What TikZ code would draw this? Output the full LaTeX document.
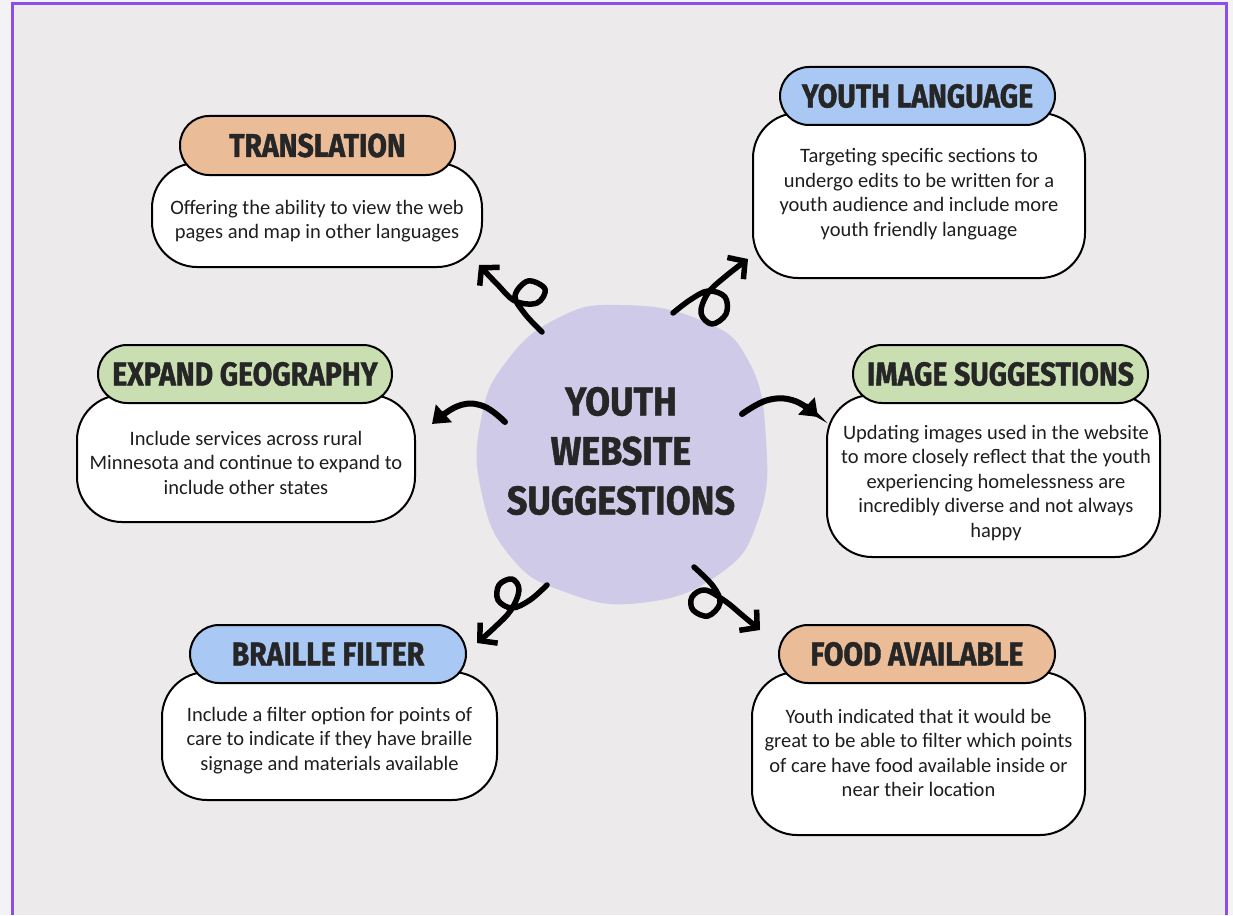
\documentclass[tikz,border=0pt]{standalone}
\usepackage{fontspec}
\setmainfont{Carlito}
\newfontfamily\headfont[FakeStretch=0.86, FakeBold=1.2]{Fira Sans}
\newfontfamily\centrefont[FakeStretch=0.9, FakeBold=1.2]{Fira Sans}
\usetikzlibrary{arrows.meta}
\definecolor{outerbg}{HTML}{F3F3F5}
\definecolor{bg}{HTML}{ECEAEB}
\definecolor{framec}{HTML}{8B4DEB}
\definecolor{peach}{HTML}{EBBC98}
\definecolor{skyb}{HTML}{A9C8F4}
\definecolor{sage}{HTML}{CADFB1}
\definecolor{blob}{HTML}{CFCAE8}
\definecolor{headtext}{HTML}{262626}
\definecolor{bodytext}{HTML}{1E1E1E}
\tikzset{
  bodybox/.style={draw=black, line width=2pt, fill=white, rounded corners=45pt, inner sep=0pt},
  pill/.style={draw=black, line width=2pt, rounded corners=29pt, inner sep=0pt,
    font=\headfont\bfseries\fontsize{33}{33}\selectfont, text=headtext},
  desc/.style={align=center, font=\fontsize{20.5}{24.5}\selectfont, text=bodytext, inner sep=0pt},
  curl/.style={line width=5.5pt, line cap=round, line join=round, draw=black,
    -{Straight Barb[length=12pt,width=27pt,line width=5.5pt]}},
  arc/.style={line width=6pt, line cap=round, draw=black,
    -{Triangle[length=16pt,width=23pt]}},
}
\begin{document}
\begin{tikzpicture}[x=1pt,y=-1pt]
\useasboundingbox (0,0) rectangle (1233,915);
\fill[outerbg] (0,0) rectangle (1233,915);
\fill[bg] (12,3) rectangle (1227,915);
\draw[framec, line width=3pt] (12.5,915) -- (12.5,3.5) -- (1226.5,3.5) -- (1226.5,915);

% centre blob
\fill[blob] plot[smooth cycle, tension=0.8] coordinates {(620,305) (700,320) (748,360) (766,440) (758,520) (718,575) (640,603) (565,592) (510,556) (481,490) (481,420) (506,362) (558,318)};
\node[font=\centrefont\bfseries\fontsize{40}{49.5}\selectfont, text=headtext, align=center, inner sep=0pt] (centre) at (621,451) {YOUTH\\WEBSITE\\SUGGESTIONS};

% Translation
\node[bodybox, minimum width=330pt, minimum height=104pt] (trB) at (317,215) {};
\node[desc] (trT) at (317,221) {Offering the ability to view the web\\pages and map in other languages};
\node[pill, fill=peach, minimum width=275pt, minimum height=59pt] (trH) at (317.5,145.5) {TRANSLATION};

% Youth language
\node[bodybox, minimum width=332pt, minimum height=165pt] (ylB) at (919,195.5) {};
\node[desc] (ylT) at (919,194) {Targeting specific sections to\\undergo edits to be written for a\\youth audience and include more\\youth friendly language};
\node[pill, fill=skyb, minimum width=275pt, minimum height=58pt] (ylH) at (917.5,96) {YOUTH LANGUAGE};

% Image suggestions
\node[bodybox, minimum width=333pt, minimum height=162pt] (isB) at (993.5,476) {};
\node[desc] (isT) at (996,483) {Updating images used in the website\\to more closely reflect that the youth\\experiencing homelessness are\\incredibly diverse and not always\\happy};
\node[pill, fill=sage, minimum width=295pt, minimum height=58pt] (isH) at (1000.5,374) {IMAGE SUGGESTIONS};

% Expand geography
\node[bodybox, minimum width=338pt, minimum height=127pt] (egB) at (246,458.5) {};
\node[desc] (egT) at (246,462.5) {Include services across rural\\Minnesota and continue to expand to\\include other states};
\node[pill, fill=sage, minimum width=294pt, minimum height=58pt] (egH) at (245,374) {EXPAND GEOGRAPHY};

% Braille filter
\node[bodybox, minimum width=335pt, minimum height=128pt] (bfB) at (329.5,736) {};
\node[desc] (bfT) at (329.5,740.5) {Include a filter option for points of\\care to indicate if they have braille\\signage and materials available};
\node[pill, fill=skyb, minimum width=276pt, minimum height=58pt] (bfH) at (328,654) {BRAILLE FILTER};

% Food available
\node[bodybox, minimum width=333pt, minimum height=163pt] (faB) at (918.5,753.5) {};
\node[desc] (faT) at (918.5,753) {Youth indicated that it would be\\great to be able to filter which points\\of care have food available inside or\\near their location};
\node[pill, fill=peach, minimum width=276pt, minimum height=58pt] (faH) at (917,654) {FOOD AVAILABLE};

% arrow ends
\coordinate (a1s) at (542,332); \coordinate (a1e) at (479,265);
\coordinate (a2s) at (673,313); \coordinate (a2e) at (748,259);
\coordinate (a3s) at (742,414); \coordinate (a3e) at (818,417);
\coordinate (a4s) at (505,422); \coordinate (a4e) at (432,424);
\coordinate (a5s) at (547,585); \coordinate (a5e) at (477,643);
\coordinate (a6s) at (694,567); \coordinate (a6e) at (760,630);

\draw[curl] plot[smooth, tension=0.6] coordinates {(a1s) (525,314) (515,296) (528,281) (545,289) (537,303) (515,301) (497,284) (a1e)};
\draw[curl] plot[smooth, tension=0.6] coordinates {(a2s) (690,300) (708,291) (725,297) (726,314) (712,324) (701,313) (708,293) (726,276) (a2e)};
\draw[arc] plot[smooth, tension=0.7] coordinates {(a3s) (768,400) (795,401) (a3e)};
\draw[arc] plot[smooth, tension=0.7] coordinates {(a4s) (483,406) (458,406) (a4e)};
\draw[curl] plot[smooth, tension=0.6] coordinates {(a5s) (530,600) (512,608) (498,600) (499,585) (512,579) (519,590) (511,610) (495,627) (a5e)};
\draw[curl] plot[smooth, tension=0.6] coordinates {(a6s) (713,586) (720,603) (708,616) (693,610) (692,597) (705,590) (725,601) (742,615) (a6e)};
\end{tikzpicture}
\end{document}
